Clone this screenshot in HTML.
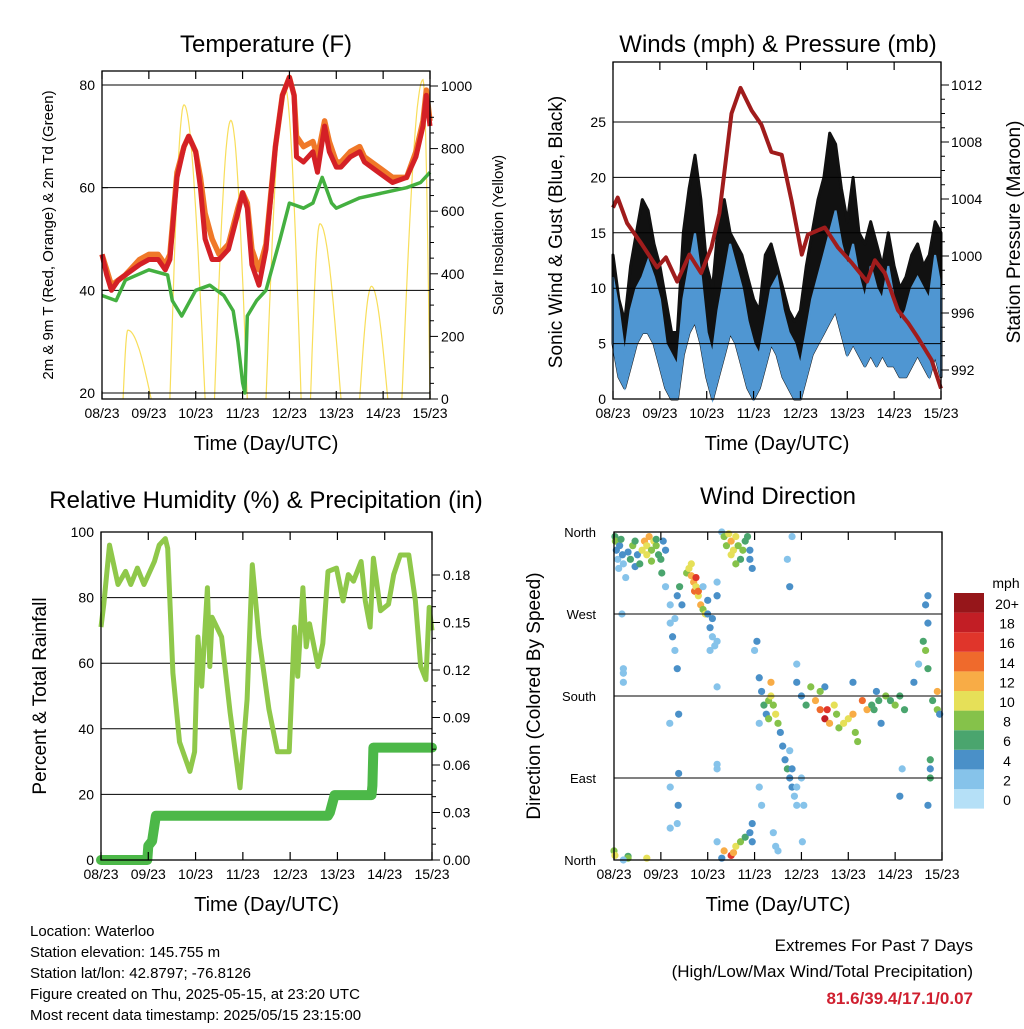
<!DOCTYPE html>
<html><head><meta charset="utf-8"><style>
html,body{margin:0;padding:0;background:#fff;}
svg text{font-family:"Liberation Sans",sans-serif;fill:#000;}
</style></head><body>
<svg id="s" xmlns="http://www.w3.org/2000/svg" width="1024" height="1024" viewBox="0 0 1024 1024">
<rect width="1024" height="1024" fill="#fff"/>
<g id="p1"></g>
<g id="p2"></g>
<g id="p3"></g>
<g id="p4"></g>
<g font-size="15">
<text x="30" y="936">Location: Waterloo</text>
<text x="30" y="957">Station elevation: 145.755 m</text>
<text x="30" y="978">Station lat/lon: 42.8797; -76.8126</text>
<text x="30" y="999">Figure created on Thu, 2025-05-15, at 23:20 UTC</text>
<text x="30" y="1020">Most recent data timestamp: 2025/05/15 23:15:00</text>
</g>
<g text-anchor="end" font-size="17">
<text x="973" y="951">Extremes For Past 7 Days</text>
<text x="973" y="977">(High/Low/Max Wind/Total Precipitation)</text>
<text x="973" y="1004" font-weight="bold" style="fill:#d02030">81.6/39.4/17.1/0.07</text>
</g>
</svg>
<script>
// ---------- data ----------
const xTickLabels=["08/23","09/23","10/23","11/23","12/23","13/23","14/23","15/23"];
const tempTimes=[0,0.1,0.2,0.35,0.5,0.8,1.0,1.2,1.35,1.45,1.6,1.75,1.85,2.0,2.1,2.2,2.35,2.5,2.7,2.9,3.0,3.1,3.2,3.35,3.5,3.7,3.85,4.0,4.1,4.15,4.3,4.5,4.6,4.75,4.85,5.0,5.1,5.3,5.5,5.6,5.9,6.2,6.5,6.7,6.85,6.92,7.0];
const tempRed=[47,43,40,42,43,45,46,46,44,46,62,68,70,67,60,50,46,46,48,55,59,56,45,41,48,68,78,81.5,78,66,65,67,63,72,67,64,64,66,67,65,63,61,62,66,72,78,72];
const tempOrange=[47,44,41,42,43,46,47,47,45,47,63,68,70,67,62,55,50,47,49,56,59,57,48,44,49,68,78,81.5,78,70,68,69,66,73,69,65,65,67,68,66,64,62,62,67,73,79,73];
const dewTimes=[0,0.3,0.5,1.0,1.4,1.5,1.7,2.0,2.3,2.6,2.8,2.9,3.0,3.05,3.1,3.3,3.5,3.8,4.0,4.3,4.5,4.7,4.9,5.0,5.5,6.0,6.5,6.8,7.0];
const dewVals=[39,38,42,44,43,38,35,40,41,39,36,30,22,20,35,38,40,50,57,56,57,62,57,56,58,59,60,61,63];
const solarStart=[0.45,1.45,2.4,3.5,4.45,5.5,6.4];
const solarPeakT=[0.55,1.75,2.75,3.9,4.65,5.75,6.85];
const solarEnd=[1.05,2.2,3.1,4.25,5.1,6.1,7.0];
const solarPeak=[220,940,890,1000,560,360,1020];
const pressTimes=[0,0.1,0.3,0.6,0.94,1.13,1.37,1.63,1.88,2.1,2.27,2.53,2.72,2.96,3.17,3.38,3.6,3.81,4.03,4.16,4.52,4.8,5.1,5.42,5.59,5.8,6.08,6.3,6.5,6.8,7.0];
const pressVals=[1003.4,1004.1,1002.3,1000.9,999.2,999.9,998.2,1000.1,998.8,1000.6,1003,1010,1011.8,1010.2,1009.2,1007.3,1007.1,1003.9,1000.1,1001.5,1002,1000.6,999.5,998.2,999.7,998.8,996.2,995.3,994.3,992.7,990.7];
const windHigh=[11,8,4,8,10,11,12.5,11,9,5,4,3,9,12,15,11,6,4,8,11,14,12,10,7,5,4,7,10,11,8,6,5,3,6,9,11,13,15,17,14,12,14,11,9,12,10,9,12,9,7,8,10,11,10,9,13,10];
const windLow=[5,2,1,3,5,6,6,5,3,1,0,0,4,6,7,5,2,0,2,4,6,5,3,1,0,1,3,5,4,2,1,0,0,2,4,5,6,7,8,6,4,5,4,3,4,3,4,3,3,2,2,3,4,3,2,4,2];
const gustHigh=[13,9,7,12,15,18,17,14,12,9,6,6,15,19,22,18,12,10,16,18,15,14,13,11,9,8,13,14,12,10,8,7,8,12,15,18,20,24,23,19,16,20,15,14,16,14,12,15,12,10,11,13,14,12,13,16,15];
const rhTimes=[0,0.06,0.18,0.36,0.52,0.63,0.77,0.91,1.13,1.23,1.36,1.41,1.52,1.66,1.88,1.98,2.05,2.13,2.25,2.3,2.35,2.55,2.73,2.94,3.09,3.2,3.34,3.55,3.73,3.98,4.09,4.16,4.27,4.34,4.41,4.59,4.69,4.8,4.98,5.12,5.23,5.34,5.5,5.59,5.69,5.76,5.91,6.08,6.19,6.33,6.51,6.65,6.76,6.87,6.94,7.0];
const rhVals=[71,78,96,84,88,84,89,84,91,96,98,95,57,36,27,33,68,53,83,59,74,68,45,22,49,90,68,46,33,33,71,56,83,65,72,59,66,88,89,79,87,85,91,79,71,92,76,78,87,93,93,79,59,55,77,70];
const rainTimes=[0,0.98,1.0,1.08,1.16,4.8,4.84,4.94,5.72,5.74,5.76,7];
const rainVals=[0,0,0.009,0.012,0.028,0.028,0.03,0.041,0.041,0.047,0.071,0.071];
const dirTimes=[],dirVals=[],dirSpeeds=[];
const dirPts=[[0.02,355,6],[0.03,350,8],[0.05,340,4],[0.08,330,3],[0.1,320,2],[0.12,345,4],[0.15,352,6],[0.18,335,4],[0.2,325,2],[0.25,310,2],[0.3,338,4],[0.35,330,6],[0.4,345,8],[0.45,350,6],[0.5,335,4],[0.45,322,4],[0.55,325,6],[0.6,340,10],[0.65,350,12],[0.7,345,10],[0.75,355,12],[0.8,340,8],[0.85,350,10],[0.9,345,8],[0.95,335,6],[1.0,330,6],[1.02,315,6],[1.05,350,4],[1.1,340,4],[1.1,300,2],[0.8,328,8],[0.7,335,10],[0.9,352,6],[0.17,270,2],[0.2,210,2],[0.2,195,2],
[1.2,280,2],[1.2,260,2],[1.25,245,4],[1.3,265,2],[1.3,230,2],[1.35,290,4],[1.4,300,6],[1.45,280,4],[1.55,315,8],[1.6,320,10],[1.65,312,12],[1.7,305,12],[1.72,295,14],[1.75,300,10],[1.8,290,10],[1.85,280,12],[1.9,275,8],[1.95,270,10],[1.65,325,10],[1.75,310,16],[1.8,295,14],[2.0,270,4],[2.05,255,4],[2.1,245,2],[2.15,235,2],[2.0,285,4],[2.1,265,4],[2.2,240,2],[2.05,230,2],[1.9,300,2],[2.2,290,2],
[1.19,150,2],[1.2,80,2],[1.2,35,2],[1.38,160,4],[1.38,95,4],[1.35,210,4],[1.37,60,4],[1.35,40,2],[2.2,190,2],[2.2,100,2],[2.2,105,2],[0.2,205,2],
[2.3,360,2],[2.35,355,8],[2.4,345,8],[2.45,358,10],[2.5,350,12],[2.55,340,10],[2.6,355,10],[2.65,345,8],[2.7,330,6],[2.75,340,8],[2.8,350,6],[2.85,355,6],[2.9,340,4],[2.95,320,4],[2.9,330,4],[2.5,335,10],[2.6,325,8],[2.2,290,4],[2.2,305,2],
[0.0,10,8],[0.02,5,10],[0.3,4,6],[0.3,2,8],[0.7,2,10],[2.3,2,4],[2.35,10,12],[2.5,5,16],[2.55,8,12],[2.6,15,10],[2.7,20,8],[2.8,25,6],[2.9,30,4],[2.95,40,4],[2.95,20,4],[2.2,20,2],[0.2,0,2],
[3.1,200,4],[3.15,185,4],[3.2,170,6],[3.25,160,4],[3.3,175,8],[3.35,180,10],[3.4,170,8],[3.45,160,10],[3.5,150,8],[3.55,140,4],[3.6,125,4],[3.65,110,4],[3.7,100,6],[3.75,90,4],[3.8,80,4],[3.85,70,2],[3.9,60,2],[3.8,100,4],[3.75,120,2],[3.1,150,2],[3.1,80,2],[3.15,60,2],[3.05,240,4],[3.0,230,2],[3.7,330,2],[3.75,300,4],[3.8,355,2],[3.9,215,2],[3.9,195,4],[4.0,180,4],[4.1,170,6],[4.2,190,8],[4.3,175,12],[4.4,165,14],[4.5,155,18],[4.55,165,16],[4.6,150,12],[4.7,170,10],[4.75,160,8],[4.8,145,8],[4.9,150,10],[5.0,155,10],[5.1,160,12],[5.15,140,8],[5.2,130,8],[5.3,175,14],[5.4,165,12],[5.5,170,6],[5.55,165,6],[5.6,185,4],[5.65,175,6],[5.7,150,4],[5.8,180,8],[5.9,175,6],[6.0,170,8],[6.1,180,6],[6.2,165,6],[6.4,195,4],[6.5,215,2],[6.6,240,6],[6.7,260,4],[6.65,230,8],[6.7,210,6],[6.8,175,6],[6.9,165,8],[6.9,185,12],[6.95,160,4],[6.75,90,6],[6.75,110,6],[6.75,100,4],[6.7,60,4],[6.7,290,4],[6.65,280,4],[6.1,70,4],[6.15,100,2],[3.9,80,2],[4.0,90,2],[4.05,60,2],[4.02,20,2],[3.4,30,2],[3.45,15,2],[3.5,10,2],[5.1,195,4],[4.5,190,4],[4.4,185,8],[3.3,155,8],[3.35,195,12]];
dirPts.forEach(p=>{dirTimes.push(p[0]);dirVals.push(p[1]);dirSpeeds.push(p[2]);});
const speedLevels=["0","2","4","6","8","10","12","14","16","18","20+"];
const speedColors=["#b5e0f7","#86c3ea","#4a90c8","#4aa56e","#85c24a","#e6e058","#f8ac46","#ef6a2c","#e0352b","#c21e25","#96161a"];

// ---------- helpers ----------
const NS="http://www.w3.org/2000/svg";
function mk(parent,tag,attrs){const e=document.createElementNS(NS,tag);for(const k in attrs)e.setAttribute(k,attrs[k]);parent.appendChild(e);return e;}
function txt(parent,x,y,s,size,anchor,rot){const t=mk(parent,"text",{x:x,y:y,"font-size":size,"text-anchor":anchor||"middle"});if(rot)t.setAttribute("transform","rotate(-90 "+x+" "+y+")");t.textContent=s;return t;}
function lin(d0,d1,r0,r1){return v=>r0+(v-d0)*(r1-r0)/(d1-d0);}
function path(pts){return pts.map((p,i)=>(i?"L":"M")+p[0].toFixed(1)+" "+p[1].toFixed(1)).join("");}
function xAxis(g,x,L,R,T,B){
  for(let i=0;i<8;i++){const px=x(i);
    mk(g,"line",{x1:px,x2:px,y1:B,y2:B-8,stroke:"#000","stroke-width":1.2});
    mk(g,"line",{x1:px,x2:px,y1:T,y2:T+8,stroke:"#000","stroke-width":1.2});
    const t=txt(g,px,B+19,xTickLabels[i],14);
    
    }
  const xt=txt(g,(L+R)/2,B+51,"Time (Day/UTC)",20);
  
  
}
function frame(g,L,R,T,B){mk(g,"rect",{x:L,y:T,width:R-L,height:B-T,fill:"none",stroke:"#000","stroke-width":1.3});}

// ---------- Panel 1: temperature ----------
(function(){
  const g=document.getElementById("p1");const L=102,R=430,T=71,B=399;
  const x=lin(0,7,L,R),y=lin(20,80,393,85),ys=lin(0,1000,399,86);
  for(let i=0;i<solarPeak.length;i++){const pts=[];
    for(let k=0;k<=40;k++){const t=solarStart[i]+(solarEnd[i]-solarStart[i])*k/40;
      const f=t<solarPeakT[i]?(t-solarStart[i])/(solarPeakT[i]-solarStart[i]):(solarEnd[i]-t)/(solarEnd[i]-solarPeakT[i]);
      pts.push([x(t),ys(solarPeak[i]*Math.sin(f*Math.PI/2))]);}
    const p=mk(g,"path",{d:path(pts),fill:"none",stroke:"#f8de5a","stroke-width":1.2});
    
    }
  [20,40,60,80].forEach(v=>mk(g,"line",{x1:L,x2:R,y1:y(v),y2:y(v),stroke:"#000","stroke-width":1}));
  const dw=mk(g,"path",{d:path(dewTimes.map((t,i)=>[x(t),y(dewVals[i])])),fill:"none",stroke:"#44b040","stroke-width":3.5,"stroke-linejoin":"round"});
  
  
  const o=mk(g,"path",{d:path(tempTimes.map((t,i)=>[x(t),y(tempOrange[i])])),fill:"none",stroke:"#f07828","stroke-width":5.5,"stroke-linejoin":"round"});
  
  
  const r=mk(g,"path",{d:path(tempTimes.map((t,i)=>[x(t),y(tempRed[i])])),fill:"none",stroke:"#d42026","stroke-width":5,"stroke-linejoin":"round"});
  
  
  frame(g,L,R,T,B);
  [20,40,60,80].forEach(v=>{mk(g,"line",{x1:L,x2:L+6,y1:y(v),y2:y(v),stroke:"#000"});txt(g,L-7,y(v)+5,String(v),14,"end");});
  for(let v=0;v<=1000;v+=50){const big=v%200==0;mk(g,"line",{x1:R,x2:R+(big?8:4),y1:ys(v),y2:ys(v),stroke:"#000"});if(big)txt(g,R+11,ys(v)+5,String(v),14,"start");}
  xAxis(g,x,L,R,T,B);
  const tt=txt(g,266,52,"Temperature (F)",24);
  const ya=txt(g,53,235,"2m & 9m T (Red, Orange) & 2m Td (Green)",15,"middle",true);
  const y2=txt(g,503,235,"Solar Insolation (Yellow)",15,"middle",true);
})();

// ---------- Panel 2: winds ----------
(function(){
  const g=document.getElementById("p2");const L=613,R=941,T=62,B=399;
  const x=lin(0,7,L,R),y=lin(0,25,399,122),yp=lin(992,1012,370,85);
  function band(hi,lo){const top=hi.map((v,i)=>[x(i*0.125),y(v)]);const bot=lo.map((v,i)=>[x(i*0.125),y(v)]).reverse();return path(top.concat(bot))+"Z";}
  const gb=mk(g,"path",{d:band(gustHigh,windLow),fill:"#111",stroke:"#111","stroke-width":3,"stroke-linejoin":"round"});
  
  
  const wb=mk(g,"path",{d:band(windHigh,windLow),fill:"#4f96d2",stroke:"#4f96d2","stroke-width":2});
  
  
  [5,10,15,20,25].forEach(v=>mk(g,"line",{x1:L,x2:R,y1:y(v),y2:y(v),stroke:"#000","stroke-width":1}));
  const p=mk(g,"path",{d:path(pressTimes.map((t,i)=>[x(t),yp(pressVals[i])])),fill:"none",stroke:"#a01c1c","stroke-width":4,"stroke-linejoin":"round"});
  
  
  frame(g,L,R,T,B);
  [0,5,10,15,20,25].forEach(v=>txt(g,L-7,y(v)+5,String(v),14,"end"));
  for(let v=992;v<=1012;v+=1){const big=v%4==0;mk(g,"line",{x1:R,x2:R+(big?8:4),y1:yp(v),y2:yp(v),stroke:"#000"});if(big)txt(g,R+10,yp(v)+5,String(v),14,"start");}
  xAxis(g,x,L,R,T,B);
  const tt=txt(g,778,52,"Winds (mph) & Pressure (mb)",24);
  const ya=txt(g,562,232,"Sonic Wind & Gust (Blue, Black)",19,"middle",true);
  const y2=txt(g,1020,232,"Station Pressure (Maroon)",19,"middle",true);
})();

// ---------- Panel 3: RH ----------
(function(){
  const g=document.getElementById("p3");const L=101,R=432,T=532,B=860;
  const x=lin(0,7,L,R),y=lin(0,100,860,532),yr=lin(0,0.18,860,575);
  [20,40,60,80].forEach(v=>mk(g,"line",{x1:L,x2:R,y1:y(v),y2:y(v),stroke:"#000","stroke-width":1}));
  const rh=mk(g,"path",{d:path(rhTimes.map((t,i)=>[x(t),y(rhVals[i])])),fill:"none",stroke:"#8fc84a","stroke-width":5,"stroke-linejoin":"round"});
  
  
  const rn=mk(g,"path",{d:path(rainTimes.map((t,i)=>[x(t),yr(rainVals[i])])),fill:"none",stroke:"#4cb848","stroke-width":10,"stroke-linecap":"round","stroke-linejoin":"round"});
  
  
  frame(g,L,R,T,B);
  [0,20,40,60,80,100].forEach(v=>txt(g,L-7,y(v)+5,String(v),14,"end"));
  for(let v=0;v<=0.18001;v+=0.01){const big=Math.round(v*100)%3==0;mk(g,"line",{x1:R,x2:R+(big?8:4),y1:yr(v),y2:yr(v),stroke:"#000"});if(big)txt(g,R+11,yr(v)+5,v.toFixed(2),14,"start");}
  xAxis(g,x,L,R,T,B);
  const tt=txt(g,266,508,"Relative Humidity (%) & Precipitation (in)",24);
  const ya=txt(g,46,696,"Percent & Total Rainfall",19,"middle",true);
})();

// ---------- Panel 4: direction ----------
(function(){
  const g=document.getElementById("p4");const L=614,R=942,T=532,B=860;
  const x=lin(0,7,L,R),y=lin(0,360,860,532);
  function col(s){return speedColors[Math.min(10,Math.floor(s/2))];}
  for(let i=0;i<dirTimes.length;i++){
    const c=mk(g,"circle",{cx:x(dirTimes[i]),cy:y(dirVals[i]),r:3.6,fill:col(dirSpeeds[i])});
    
    }
  [90,180,270].forEach(v=>mk(g,"line",{x1:L,x2:R,y1:y(v),y2:y(v),stroke:"#000","stroke-width":1}));
  frame(g,L,R,T,B);
  const names=["North","East","South","West","North"];
  [0,90,180,270,360].forEach((v,i)=>txt(g,L-18,y(v)+5,names[i],13,"end"));
  xAxis(g,x,L,R,T,B);
  const tt=txt(g,778,504,"Wind Direction",24);
  const ya=txt(g,540,696,"Direction (Colored By Speed)",19,"middle",true);
  const lg=mk(g,"g",{});
  txt(lg,1006,588,"mph",14);
  for(let i=0;i<11;i++){const yy=593+(10-i)*19.6;
    const r=mk(lg,"rect",{x:954,y:yy,width:30,height:19.6,fill:speedColors[i]});
    
    
    txt(lg,1007,yy+16,speedLevels[i],14);}
})();
</script>
</body></html>
